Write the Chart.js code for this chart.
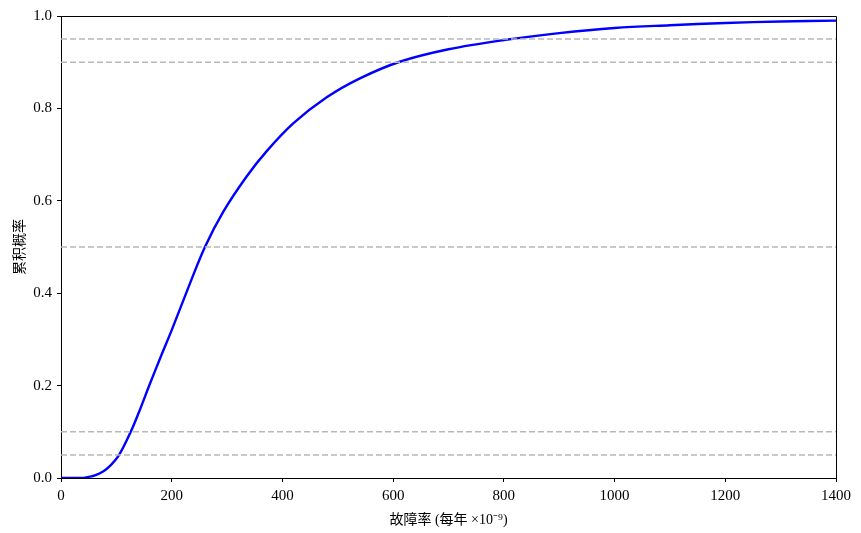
<!DOCTYPE html>
<html>
<head>
<meta charset="utf-8">
<script src="https://cdn.jsdelivr.net/npm/chart.js@4/dist/chart.umd.min.js"></script>
<style>
  body { margin: 0; background: #fff; }
</style>
</head>
<body>
<canvas id="myChart" width="861" height="533"></canvas>
<script>
// values
const failRate = [0, 40, 52, 60, 76, 90, 105, 126, 140, 161, 180, 200, 230, 260, 293, 335, 372, 420, 480, 540, 612, 700, 800, 900, 1000, 1100, 1200, 1300, 1400];
const cumProb = [0, 0, 0.003, 0.005, 0.014, 0.028, 0.05, 0.1, 0.14, 0.205, 0.262, 0.32, 0.412, 0.5, 0.576, 0.652, 0.708, 0.768, 0.824, 0.865, 0.901, 0.928, 0.948, 0.963, 0.974, 0.98, 0.985, 0.988, 0.99];
const refLevels = [0.05, 0.1, 0.5, 0.9, 0.95];
const xTicks = [0, 200, 400, 600, 800, 1000, 1200, 1400];
const yTicks = [0, 0.2, 0.4, 0.6, 0.8, 1.0];

const serif = "'Liberation Serif', 'Noto Sans CJK SC', serif";

var datasets = [];
refLevels.forEach(function(lv) {
    datasets.push({
        data: [{x: 0, y: lv}, {x: 1400, y: lv}],
        borderColor: '#b8b8b8',
        borderWidth: 1.5,
        borderDash: [6, 3],
        pointRadius: 0,
        showLine: true
    });
});
datasets.push({
    data: failRate.map(function(v, i) { return {x: v, y: cumProb[i]}; }),
    borderColor: '#0000ff',
    borderWidth: 2.4,
    pointRadius: 0,
    showLine: true,
    tension: 0.35
});

// top and right frame lines
const frame = {
    id: 'frame',
    afterDraw(chart) {
        const a = chart.chartArea, c = chart.ctx;
        c.save();
        c.strokeStyle = '#000';
        c.lineWidth = 1;
        c.beginPath();
        c.moveTo(a.left, a.top + 0.5);
        c.lineTo(a.right + 0.5, a.top + 0.5);
        c.lineTo(a.right + 0.5, a.bottom);
        c.stroke();
        c.restore();
    }
};

const ctx = document.getElementById('myChart').getContext('2d');
const myChart = new Chart(ctx, {
    type: 'scatter',
    data: { datasets: datasets },
    plugins: [frame],
    options: {
        responsive: false,
        animation: false,
        layout: { padding: { left: 0, right: 25, top: 16, bottom: 0 } },
        plugins: { legend: { display: false }, tooltip: { enabled: false } },
        scales: {
            x: {
                type: 'linear', min: 0, max: 1400,
                afterBuildTicks: function(s) { s.ticks = xTicks.map(function(v) { return {value: v}; }); },
                afterFit: function(s) { s.height = 55; },
                grid: { drawOnChartArea: false, drawTicks: true, tickLength: 4, color: '#000' },
                border: { color: '#000', width: 1 },
                ticks: { color: '#000', font: { family: serif, size: 15 }, padding: 5, maxRotation: 0,
                    callback: function(v) { return String(v); } },
                title: { display: true, text: '故障率 (每年 ×10⁻⁹)', color: '#000', font: { family: serif, size: 14 }, padding: { top: 0 } }
            },
            y: {
                type: 'linear', min: 0, max: 1,
                afterBuildTicks: function(s) { s.ticks = yTicks.map(function(v) { return {value: v}; }); },
                afterFit: function(s) { s.width = 61; },
                grid: { drawOnChartArea: false, drawTicks: true, tickLength: 4, color: '#000' },
                border: { color: '#000', width: 1 },
                ticks: { color: '#000', font: { family: serif, size: 15 }, padding: 5,
                    callback: function(v) { return Number(v).toFixed(1); } },
                title: { display: true, text: '累积概率', color: '#000', font: { family: serif, size: 14 }, padding: { top: 12, bottom: 2 } }
            }
        }
    }
});
</script>
</body>
</html>
